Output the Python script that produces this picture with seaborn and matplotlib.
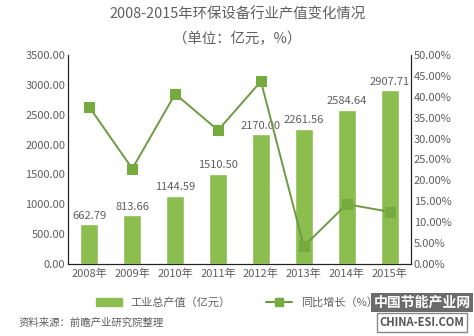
import numpy as np
import pandas as pd
import matplotlib.pyplot as plt
import seaborn as sns
from matplotlib.lines import Line2D
from matplotlib.patches import Patch

years = ["2008年", "2009年", "2010年", "2011年", "2012年", "2013年", "2014年", "2015年"]
output_value = [662.79, 813.66, 1144.59, 1510.50, 2170.00, 2261.56, 2584.64, 2907.71]
growth_pct = [37.5, 22.8, 40.7, 32.0, 43.7, 4.2, 14.3, 12.5]

bar_color = "#8bbd4f"
line_color = "#6f9a45"
marker_color = "#75aa3f"
text_color = "#5f5f5f"

sns.set_theme(style="white")
plt.rcParams["font.family"] = ["Noto Sans CJK SC", "DejaVu Sans"]

df = pd.DataFrame({"year": years, "value": output_value, "growth": growth_pct})

fig = plt.figure(figsize=(4.74, 3.36), dpi=100)
ax = fig.add_axes([0.1435, 0.2143, 0.7235, 0.622])

sns.barplot(data=df, x="year", y="value", color=bar_color, width=0.42,
            saturation=1, ax=ax)
ax.set_ylim(0, 3500)
ax.set_yticks(np.arange(0, 3501, 500))
ax.set_yticklabels([f"{v:.2f}" for v in np.arange(0, 3501, 500)])
ax.set_xlabel("")
ax.set_ylabel("")
for i, v in enumerate(output_value):
    ax.text(i, v + 60, f"{v:.2f}", ha="center", va="bottom",
            fontsize=8, color=text_color)

ax2 = ax.twinx()
sns.lineplot(x=np.arange(len(years)), y=growth_pct, ax=ax2, color=line_color,
             marker="s", markersize=7, markerfacecolor=marker_color,
             markeredgecolor=marker_color, linewidth=1.4)
ax2.set_ylim(0, 50)
ax2.set_yticks(np.arange(0, 51, 5))
ax2.set_yticklabels([f"{v:.2f}%" for v in np.arange(0, 51, 5)])
ax.set_xlim(-0.5, len(years) - 0.5)

for a in (ax, ax2):
    a.tick_params(labelsize=8, colors=text_color, length=0)
    for s in a.spines.values():
        s.set_color("#222222")
        s.set_linewidth(0.8)
    a.spines["top"].set_visible(False)
ax.tick_params(axis="x", pad=3)
ax.tick_params(axis="y", pad=2)
ax2.tick_params(axis="y", pad=2)

fig.text(0.5, 0.955, "2008-2015年环保设备行业产值变化情况", ha="center", va="center",
         fontsize=10.4, color=text_color)
fig.text(0.5, 0.885, "（单位：亿元，%）", ha="center", va="center",
         fontsize=10.4, color=text_color)

handles = [Patch(color=bar_color),
           Line2D([0], [0], color=line_color, marker="s", markersize=6,
                  markerfacecolor=marker_color, markeredgecolor=marker_color)]
fig.legend(handles, ["工业总产值（亿元）", "同比增长（%）"], loc="center",
           bbox_to_anchor=(0.5, 0.1), ncol=2, frameon=False, fontsize=8,
           labelcolor=text_color, columnspacing=3.2, handlelength=2.3)

fig.text(0.04, 0.04, "资料来源：前瞻产业研究院整理", ha="left", va="center",
         fontsize=7.5, color=text_color)
fig.text(0.89, 0.1, "中国节能产业网", ha="center", va="center", fontsize=10,
         color="white", fontweight="bold",
         bbox=dict(boxstyle="square,pad=0.2", facecolor="#6b6b6b", edgecolor="none"))
fig.text(0.89, 0.04, "CHINA-ESI.COM", ha="center", va="center", fontsize=8,
         color="#555555", fontweight="bold",
         bbox=dict(boxstyle="square,pad=0.25", facecolor="white", edgecolor="#888888"))

fig.savefig("out.png", dpi=100)
